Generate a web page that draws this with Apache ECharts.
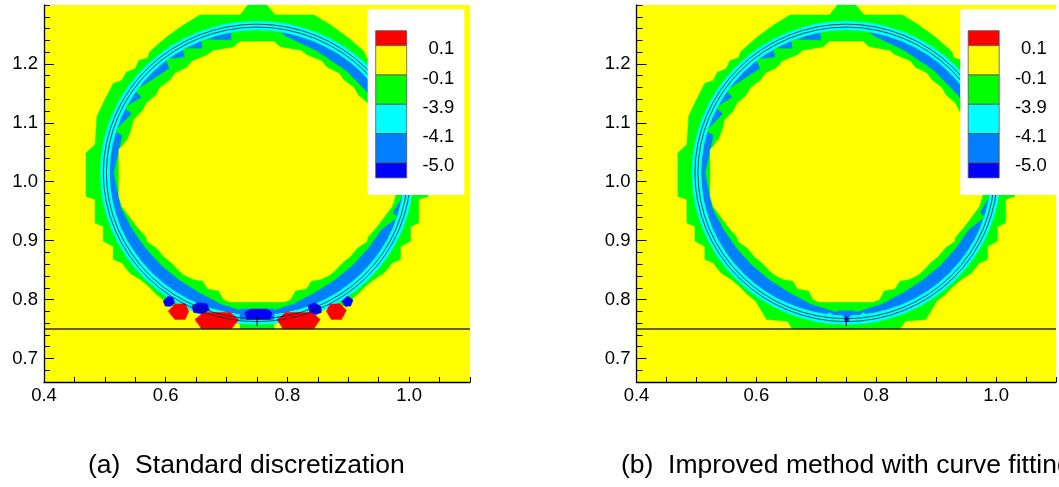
<!DOCTYPE html>
<html><head><meta charset="utf-8">
<script src="https://cdn.jsdelivr.net/npm/echarts/dist/echarts.min.js"></script>
<style>html,body{margin:0;padding:0;background:#fff;}#c{width:1059px;height:487px;}</style>
</head><body><div id="c"></div><script>
// ---------- data ----------
const xTickLabels = ['0.4','0.6','0.8','1.0'];
const yTickLabels = ['0.7','0.8','0.9','1.0','1.1','1.2'];
const xRange = [0.4, 1.1];
const yRange = [0.66, 1.30];
const legendLevels = ['0.1','-0.1','-3.9','-4.1','-5.0'];
const bandColors = ['#ff0000','#ffff00','#00ff00','#00ffff','#0080ff','#0000ff'];
const captions = ['(a)  Standard discretization','(b)  Improved method with curve fitting'];
const circleCenter = [0.75, 1.015];
const interfaceRadii = [0.2475, 0.2525];
const cyanBand = [0.242, 0.258];
const blueDiskRadius = 0.242;
const wallY = 0.75;

const outerSides = [
[0.599,0.797],[0.585,0.8085],[0.571,0.823],[0.558,0.834],[0.541,0.845],[0.528,0.862],[0.514,0.868],[0.514,0.890],[0.4975,0.899],[0.4975,0.924],[0.484,0.930],[0.484,0.970],[0.469,0.975],[0.469,1.049],[0.484,1.063],[0.487,1.111],[0.500,1.139],[0.514,1.167],[0.528,1.172],[0.535,1.186],[0.550,1.192],[0.556,1.206],[0.570,1.210],[0.574,1.221],[0.602,1.246],[0.629,1.266],[0.656,1.283],
[0.722,1.283],[0.735,1.300],[0.766,1.300],[0.780,1.283],
[0.844,1.283],[0.871,1.266],[0.898,1.246],[0.926,1.221],[0.930,1.210],[0.944,1.206],[0.950,1.192],[0.965,1.186],[0.972,1.172],[0.986,1.167],[1.000,1.139],[1.013,1.111],[1.016,1.063],[1.031,1.049],[1.031,0.975],[1.016,0.970],[1.016,0.930],[1.0025,0.924],[1.0025,0.899],[0.986,0.890],[0.986,0.868],[0.972,0.862],[0.959,0.845],[0.942,0.834],[0.929,0.823],[0.915,0.8085],[0.901,0.797]
];
const outerBottomA = [[0.893,0.789],[0.860,0.786],[0.800,0.782],[0.778,0.780],[0.778,0.750],[0.722,0.750],[0.722,0.780],[0.700,0.782],[0.640,0.786],[0.607,0.789]];
const outerBottomB = [[0.883,0.766],[0.848,0.763],[0.840,0.750],[0.660,0.750],[0.652,0.763],[0.617,0.766]];

const midGreen = [
[0.784,1.2576],[0.750,1.260],[0.7075,1.2563],[0.7083,1.2402],[0.6586,1.2412],[0.6605,1.2258],[0.628,1.2263],[0.6321,1.2113],[0.5998,1.2073],[0.6065,1.1922],[0.5501,1.155],[0.5602,1.1431],[0.5326,1.1258],[0.5442,1.1154],[0.5167,1.0863],[0.5289,1.0784],[0.515,1.015],[0.5269,0.9552],
[0.5452,0.9195],[0.5673,0.8871],[0.593,0.858],[0.6227,0.8331],[0.6553,0.812],[0.6905,0.7928],[0.7294,0.7799],
[0.7706,0.7799],[0.8095,0.7928],[0.8447,0.812],[0.8773,0.8331],[0.907,0.858],[0.9327,0.8871],[0.9548,0.9195],
[0.9811,0.9399],[0.9728,0.9469],[0.9916,0.981],[0.9822,0.9865],[0.9931,1.0363],[0.9827,1.0395],[0.968,1.0943],[0.9368,1.1458],[0.8959,1.1889],[0.8468,1.2225],[0.8103,1.2401],[0.7952,1.2476]
];

const interior = [
[0.722,1.238],[0.778,1.238],[0.7886,1.2283],[0.8224,1.2225],[0.832,1.2148],[0.8562,1.2051],[0.8658,1.1935],[0.8851,1.1839],[0.8928,1.1723],[0.9092,1.1598],[0.916,1.1472],[0.9314,1.1337],[0.9382,1.1202],[0.9527,1.1047],[0.9565,1.0874],[0.9623,1.0729],[0.972,1.060],[0.977,1.055],
[0.977,0.975],[0.972,0.958],[0.9467,0.9233],[0.9315,0.9052],[0.9305,0.8985],[0.9152,0.888],[0.9028,0.8727],[0.8913,0.8632],[0.8789,0.8498],[0.8703,0.8421],[0.855,0.8345],[0.8388,0.8316],[0.8312,0.8183],[0.813,0.8154],[0.805,0.800],[0.795,0.796],
[0.705,0.796],[0.695,0.800],[0.687,0.8154],[0.6688,0.8183],[0.6612,0.8316],[0.645,0.8345],[0.6297,0.8421],[0.6211,0.8498],[0.6087,0.8632],[0.5972,0.8727],[0.5848,0.888],[0.5695,0.8985],[0.5685,0.9052],[0.5533,0.9233],[0.528,0.958],[0.523,0.975],
[0.523,1.055],[0.528,1.060],[0.5377,1.0729],[0.5435,1.0874],[0.5473,1.1047],[0.5618,1.1202],[0.5686,1.1337],[0.584,1.1472],[0.5908,1.1598],[0.6072,1.1723],[0.6149,1.1839],[0.6342,1.1935],[0.6438,1.2051],[0.668,1.2148],[0.6776,1.2225],[0.7114,1.2283]
];

// panel (a) bottom patches
const lightBluePatchesA = [[[0.722,0.784],[0.778,0.784],[0.778,0.766],[0.722,0.766]]];
const redPatchesA = [
[[0.604,0.780],[0.615,0.792],[0.632,0.793],[0.638,0.780],[0.632,0.766],[0.615,0.766]],
[[0.648,0.766],[0.662,0.778],[0.706,0.778],[0.720,0.766],[0.708,0.750],[0.659,0.750]],
[[0.783,0.766],[0.797,0.778],[0.841,0.778],[0.854,0.766],[0.843,0.750],[0.793,0.750]],
[[0.864,0.780],[0.870,0.792],[0.886,0.793],[0.897,0.782],[0.889,0.766],[0.872,0.766]]
];
const darkBluePatchesA = [
[[0.596,0.797],[0.604,0.806],[0.612,0.803],[0.615,0.794],[0.607,0.788],[0.599,0.789]],
[[0.643,0.788],[0.652,0.795],[0.668,0.793],[0.672,0.782],[0.660,0.776],[0.646,0.778]],
[[0.730,0.778],[0.739,0.784],[0.766,0.784],[0.775,0.778],[0.772,0.766],[0.733,0.766]],
[[0.834,0.790],[0.845,0.795],[0.855,0.788],[0.856,0.778],[0.846,0.774],[0.836,0.780]],
[[0.889,0.797],[0.899,0.806],[0.908,0.799],[0.904,0.789],[0.895,0.788]]
];
// panel (b) bottom patches
const cyanPatchesB = [
[[0.690,0.770],[0.700,0.779],[0.708,0.770]],
[[0.711,0.770],[0.722,0.778],[0.733,0.770]],
[[0.768,0.770],[0.779,0.778],[0.790,0.770]],
[[0.794,0.770],[0.805,0.779],[0.817,0.770]]
];
const bluePatchesB = [[[0.737,0.781],[0.764,0.781],[0.751,0.765]]];
const centerMark = [[0.75,0.755],[0.75,0.772]];
const centerDotB = [[0.751,0.766]];

// ---------- layout ----------
const PLOT = {top:5, w:426, h:377};
const panelLeft = [44, 636.5];
const captionLeft = [88, 621];
const FONT = 'Liberation Sans, Arial, Helvetica, sans-serif';
const TICK_FONT = 18.5;

const chart = echarts.init(document.getElementById('c'), null, {renderer:'canvas'});

function labelFrom(list){ return v => { const l = list.find(s => Math.abs(parseFloat(s)-v) < 1e-6); return l || ''; }; }

const grids = [], xAxes = [], yAxes = [], series = [], graphics = [];
const yHi = parseFloat(yTickLabels[yTickLabels.length-1]), yLo = parseFloat(yTickLabels[0]);
const pxPerY = PLOT.h/(yRange[1]-yRange[0]);

function polySeries(gi, polys, color){
  return {type:'custom', coordinateSystem:'cartesian2d', xAxisIndex:gi, yAxisIndex:gi, silent:true, animation:false,
    data: polys.map((p,i)=>[p[0][0], p[0][1], i]),
    renderItem(params, api){
      const poly = polys[params.dataIndex];
      return {type:'polygon', shape:{points: poly.map(pt=>api.coord(pt))}, style:{fill:color, stroke:color, lineWidth:0.4}};
    }};
}
function roundSeries(gi, r0, r1, color, strokeOnly){
  return {type:'custom', coordinateSystem:'cartesian2d', xAxisIndex:gi, yAxisIndex:gi, silent:true, animation:false,
    data:[[circleCenter[0], circleCenter[1], r0, r1]],
    renderItem(params, api){
      const c = api.coord([api.value(0), api.value(1)]);
      const s1 = api.size([api.value(3), api.value(3)]);
      const s0 = api.size([api.value(2), api.value(2)]);
      let el;
      if (strokeOnly) el = {type:'circle', shape:{cx:0,cy:0,r:s1[0]}, style:{fill:'none', stroke:color, lineWidth:0.75}};
      else if (api.value(2) > 0) el = {type:'ring', shape:{cx:0,cy:0,r:s1[0],r0:s0[0]}, style:{fill:color}};
      else el = {type:'circle', shape:{cx:0,cy:0,r:s1[0]}, style:{fill:color}};
      el.x = c[0]; el.y = c[1]; el.scaleY = s1[1]/s1[0];
      return el;
    }};
}
function lineSeries(gi, pts, color, width){
  return {type:'line', xAxisIndex:gi, yAxisIndex:gi, data:pts, symbol:'none', silent:true, animation:false,
    lineStyle:{color, width}};
}

[0,1].forEach(p => {
  const left = panelLeft[p];
  const gMain = grids.length;
  grids.push({left, top:PLOT.top, width:PLOT.w, height:PLOT.h, show:true, backgroundColor:bandColors[1], borderWidth:0});
  xAxes.push({gridIndex:gMain, type:'value', min:xRange[0], max:xRange[1], interval:0.05,
    axisLine:{show:true, onZero:false, lineStyle:{color:'#000', width:1.3}},
    axisTick:{show:true, inside:true, length:5, lineStyle:{color:'#000', width:1}},
    axisLabel:{formatter:labelFrom(xTickLabels), fontSize:TICK_FONT, color:'#000', fontFamily:FONT, margin:4},
    splitLine:{show:false}});
  yAxes.push({gridIndex:gMain, type:'value', min:yRange[0], max:yRange[1], interval:0.02,
    axisLine:{show:true, onZero:false, lineStyle:{color:'#000', width:1.3}},
    axisTick:{show:true, inside:true, length:6, lineStyle:{color:'#000', width:1}},
    axisLabel:{show:false}, splitLine:{show:false}});
  const gMaj = grids.length;
  grids.push({left, top:PLOT.top + (yRange[1]-yHi)*pxPerY, width:PLOT.w, height:(yHi-yLo)*pxPerY, show:false});
  xAxes.push({gridIndex:gMaj, type:'value', min:xRange[0], max:xRange[1], show:false});
  yAxes.push({gridIndex:gMaj, type:'value', min:yLo, max:yHi, interval:0.1,
    axisLine:{show:false}, axisTick:{show:true, inside:true, length:10, lineStyle:{color:'#000', width:1}},
    axisLabel:{formatter:labelFrom(yTickLabels), fontSize:TICK_FONT, color:'#000', fontFamily:FONT, margin:6},
    splitLine:{show:false}});

  const outer = p === 0 ? outerSides.concat(outerBottomA) : outerSides.concat(outerBottomB);
  series.push(polySeries(gMain, [outer], bandColors[2]));
  series.push(roundSeries(gMain, 0, blueDiskRadius, bandColors[4]));
  series.push(polySeries(gMain, [midGreen], bandColors[2]));
  series.push(polySeries(gMain, [interior], bandColors[1]));
  series.push(roundSeries(gMain, cyanBand[0], cyanBand[1], bandColors[3]));
  if (p === 0) {
    series.push(polySeries(gMain, lightBluePatchesA, bandColors[4]));
    series.push(polySeries(gMain, redPatchesA, bandColors[0]));
    series.push(polySeries(gMain, darkBluePatchesA, bandColors[5]));
  } else {
    series.push(polySeries(gMain, cyanPatchesB, bandColors[3]));
    series.push(polySeries(gMain, bluePatchesB, bandColors[4]));
  }
  interfaceRadii.forEach(r => series.push(roundSeries(gMain, 0, r, '#1a1a1a', true)));
  series.push(lineSeries(gMain, [[xRange[0], wallY],[xRange[1], wallY]], '#2e2e00', 1.5));
  series.push(lineSeries(gMain, centerMark, '#000', 1));
  if (p === 1) series.push({type:'scatter', xAxisIndex:gMain, yAxisIndex:gMain, data:centerDotB, symbolSize:5, itemStyle:{color:bandColors[5]}, silent:true, animation:false});

  // legend box
  const ox = left - panelLeft[0];
  const bx = 367.7 + ox, by = 9.3;
  graphics.push({type:'rect', z:100, shape:{x:bx, y:by, width:96.6, height:185.7}, style:{fill:'#fff'}});
  const sx = bx + 8, sw = 31, sTop = 30.7, full = 29.3, half = 15;
  let y = sTop;
  bandColors.forEach((c, i) => {
    const h = (i === 0 || i === bandColors.length-1) ? half : full;
    graphics.push({type:'rect', z:101, shape:{x:sx, y, width:sw, height:h}, style:{fill:c, stroke:'#555', lineWidth:0.8}});
    y += h;
  });
  legendLevels.forEach((lab, i) => {
    graphics.push({type:'text', z:102, x: bx + 86.6, y: sTop + half + i*full + 3.5,
      style:{text:lab, fill:'#000', font:TICK_FONT + 'px ' + FONT, textAlign:'right', textVerticalAlign:'middle'}});
  });
  graphics.push({type:'text', z:102, x: captionLeft[p], y:466,
    style:{text:captions[p], fill:'#000', font:'26.5px ' + FONT, textAlign:'left', textVerticalAlign:'middle'}});
});

chart.setOption({animation:false, backgroundColor:'#fff', grid:grids, xAxis:xAxes, yAxis:yAxes, series, graphic:graphics});
</script></body></html>
